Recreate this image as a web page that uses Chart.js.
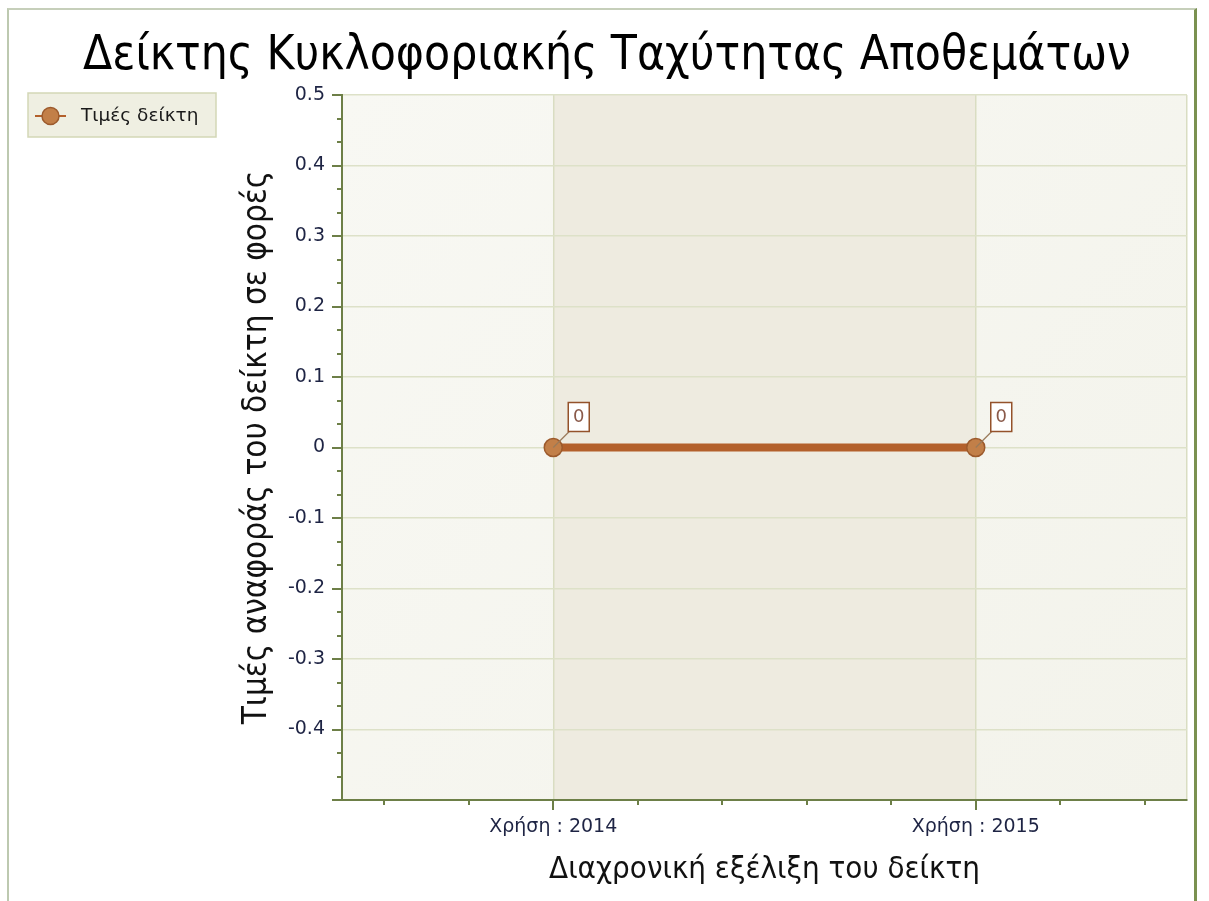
<!DOCTYPE html>
<html>
<head>
<meta charset="utf-8">
<script src="https://cdn.jsdelivr.net/npm/chart.js@4.4.1/dist/chart.umd.min.js"></script>
<style>
  html, body { margin: 0; padding: 0; background: #fff; }
  #wrap { position: relative; width: 1209px; height: 901px; overflow: hidden; }
  #chart { position: absolute; left: 0; top: 0; }
  #frame {
    position: absolute; left: 7px; top: 8px; width: 1185px; height: 900px;
    border-left: 2px solid #bdc9b0; border-top: 2px solid #c6cfba; border-right: 3px solid #7a9150;
  }
</style>
</head>
<body>
<div id="wrap">
  <canvas id="chart" width="1209" height="901"></canvas>
  <div id="frame"></div>
</div>
<script>
const chartTitle = 'Δείκτης Κυκλοφοριακής Ταχύτητας Αποθεμάτων';
const seriesName = 'Τιμές δείκτη';
const xTitle = 'Διαχρονική εξέλιξη του δείκτη';
const yTitle = 'Τιμές αναφοράς του δείκτη σε φορές';

const categories = ['Χρήση : 2014', 'Χρήση : 2015'];
const values = [0, 0];
const pointLabels = ['0', '0'];

// y axis: labelled ticks every 0.1, two minor ticks between
const yMajor = [-0.5, -0.4, -0.3, -0.2, -0.1, 0, 0.1, 0.2, 0.3, 0.4, 0.5];
const yHiddenLabels = [-0.5];
const ySub = 3;
// x axis: minor ticks every 0.2 of a category step
const xMinor = [-0.4, -0.2, 0, 0.2, 0.4, 0.6, 0.8, 1, 1.2, 1.4];

const axisColor = '#6d7f47';
const gridColor = '#dde1c8';
const tickFont = { family: 'DejaVu Sans', size: 19 };

function isMajorY(v) {
  return Math.abs(v * 10 - Math.round(v * 10)) < 1e-6;
}

const bgPlugin = {
  id: 'bg',
  beforeDraw(chart) {
    const { ctx, chartArea: a, scales } = chart;
    ctx.save();
    const g = ctx.createLinearGradient(a.left, a.top, a.right, a.bottom);
    g.addColorStop(0, '#f8f8f3');
    g.addColorStop(1, '#f3f3eb');
    ctx.fillStyle = g;
    ctx.fillRect(a.left, a.top, a.right - a.left, a.bottom - a.top);
    const x0 = scales.x.getPixelForValue(0);
    const x1 = scales.x.getPixelForValue(categories.length - 1);
    ctx.fillStyle = '#eeebe0';
    ctx.fillRect(x0, a.top, x1 - x0, a.bottom - a.top);
    ctx.restore();
  }
};

const decoPlugin = {
  id: 'deco',
  afterDraw(chart) {
    const { ctx, chartArea: a, scales } = chart;
    ctx.save();
    // ticks
    ctx.strokeStyle = axisColor;
    ctx.lineWidth = 2;
    scales.y.ticks.forEach(t => {
      const py = Math.round(scales.y.getPixelForValue(t.value));
      const len = isMajorY(t.value) ? 10 : 5;
      ctx.beginPath();
      ctx.moveTo(a.left - len, py);
      ctx.lineTo(a.left, py);
      ctx.stroke();
    });
    xMinor.forEach(v => {
      const px = Math.round(scales.x.getPixelForValue(v));
      const len = Number.isInteger(v) ? 10 : 5;
      ctx.beginPath();
      ctx.moveTo(px, a.bottom);
      ctx.lineTo(px, a.bottom + len);
      ctx.stroke();
    });

    // title
    ctx.fillStyle = '#000';
    ctx.font = '47.5px "DejaVu Sans Condensed"';
    ctx.textAlign = 'center';
    ctx.textBaseline = 'alphabetic';
    ctx.fillText(chartTitle, 607, 69);

    // legend
    const ds = chart.data.datasets[0];
    ctx.fillStyle = '#efefe2';
    ctx.strokeStyle = '#d3d7b6';
    ctx.lineWidth = 1.5;
    ctx.fillRect(28, 93, 188, 44);
    ctx.strokeRect(28, 93, 188, 44);
    ctx.strokeStyle = ds.borderColor;
    ctx.lineWidth = 2;
    ctx.beginPath();
    ctx.moveTo(35, 116);
    ctx.lineTo(66, 116);
    ctx.stroke();
    ctx.beginPath();
    ctx.arc(50.5, 116, 8.5, 0, Math.PI * 2);
    ctx.fillStyle = ds.pointBackgroundColor;
    ctx.fill();
    ctx.strokeStyle = ds.pointBorderColor;
    ctx.lineWidth = 1.5;
    ctx.stroke();
    ctx.fillStyle = '#1a1a1a';
    ctx.font = '18.5px "DejaVu Sans"';
    ctx.textAlign = 'left';
    ctx.textBaseline = 'middle';
    ctx.fillText(ds.label, 81, 116);
    ctx.restore();
  },
  afterDatasetsDraw(chart) {
    const { ctx } = chart;
    const meta = chart.getDatasetMeta(0);
    ctx.save();
    meta.data.forEach((pt, i) => {
      const x = pt.x, y = pt.y;
      ctx.strokeStyle = '#9a7a5a';
      ctx.lineWidth = 1.2;
      ctx.beginPath();
      ctx.moveTo(x, y);
      ctx.lineTo(x + 16, y - 16);
      ctx.stroke();
      ctx.fillStyle = '#fff';
      ctx.fillRect(x + 15, y - 45, 21, 29);
      ctx.strokeStyle = '#94522a';
      ctx.lineWidth = 1.5;
      ctx.strokeRect(x + 15, y - 45, 21, 29);
      ctx.fillStyle = '#8a5a4a';
      ctx.font = '18px "DejaVu Sans"';
      ctx.textAlign = 'center';
      ctx.textBaseline = 'middle';
      ctx.fillText(pointLabels[i], x + 25.5, y - 30);
    });
    ctx.restore();
  }
};

new Chart(document.getElementById('chart'), {
  type: 'line',
  data: {
    datasets: [{
      label: seriesName,
      data: values.map((v, i) => ({ x: i, y: v })),
      borderColor: '#b3602b',
      borderWidth: 8,
      pointRadius: 9,
      pointHoverRadius: 9,
      pointBackgroundColor: '#c27f48',
      pointBorderColor: '#9c5a2c',
      pointBorderWidth: 1.5,
      tension: 0
    }]
  },
  options: {
    responsive: false,
    animation: false,
    layout: { padding: { top: 95, right: 22, left: 0, bottom: 0 } },
    plugins: {
      legend: { display: false },
      title: { display: false },
      tooltip: { enabled: false }
    },
    scales: {
      x: {
        type: 'linear',
        min: -0.5,
        max: categories.length - 0.5,
        afterBuildTicks(s) {
          s.ticks = [-0.5, ...categories.map((c, i) => i), categories.length - 0.5].map(v => ({ value: v }));
        },
        afterFit(s) { s.height = 101; },
        grid: {
          drawTicks: false,
          color: c => c.tick && c.tick.value !== -0.5 ? '#d9ddc2' : 'transparent',
          lineWidth: 1.5
        },
        border: { color: axisColor, width: 2 },
        ticks: {
          padding: 16,
          color: '#1e2444',
          font: tickFont,
          maxRotation: 0,
          autoSkip: false,
          callback: v => Number.isInteger(v) && categories[v] !== undefined ? categories[v] : ''
        },
        title: {
          display: true,
          text: xTitle,
          color: '#111',
          font: { family: 'DejaVu Sans Condensed', size: 31 },
          padding: { top: 0, bottom: 12 }
        }
      },
      y: {
        min: yMajor[0],
        max: yMajor[yMajor.length - 1],
        afterBuildTicks(s) {
          const t = [];
          for (let i = 0; i < yMajor.length; i++) {
            t.push({ value: yMajor[i] });
            if (i < yMajor.length - 1) {
              const step = (yMajor[i + 1] - yMajor[i]) / ySub;
              for (let k = 1; k < ySub; k++) t.push({ value: yMajor[i] + step * k });
            }
          }
          s.ticks = t;
        },
        afterFit(s) { s.width = 342; },
        grid: {
          drawTicks: false,
          color: c => c.tick && isMajorY(c.tick.value) ? gridColor : 'transparent',
          lineWidth: 1.5
        },
        border: { color: axisColor, width: 2 },
        ticks: {
          padding: 17,
          color: '#1e2444',
          font: tickFont,
          autoSkip: false,
          callback: v => {
            if (!isMajorY(v)) return '';
            const r = Math.round(v * 10) / 10;
            return yHiddenLabels.includes(r) ? '' : String(r);
          }
        },
        title: {
          display: true,
          text: yTitle,
          color: '#111',
          font: { family: 'DejaVu Sans Condensed', size: 33 },
          padding: { top: 238, bottom: 0 }
        }
      }
    }
  },
  plugins: [bgPlugin, decoPlugin]
});
</script>
</body>
</html>
